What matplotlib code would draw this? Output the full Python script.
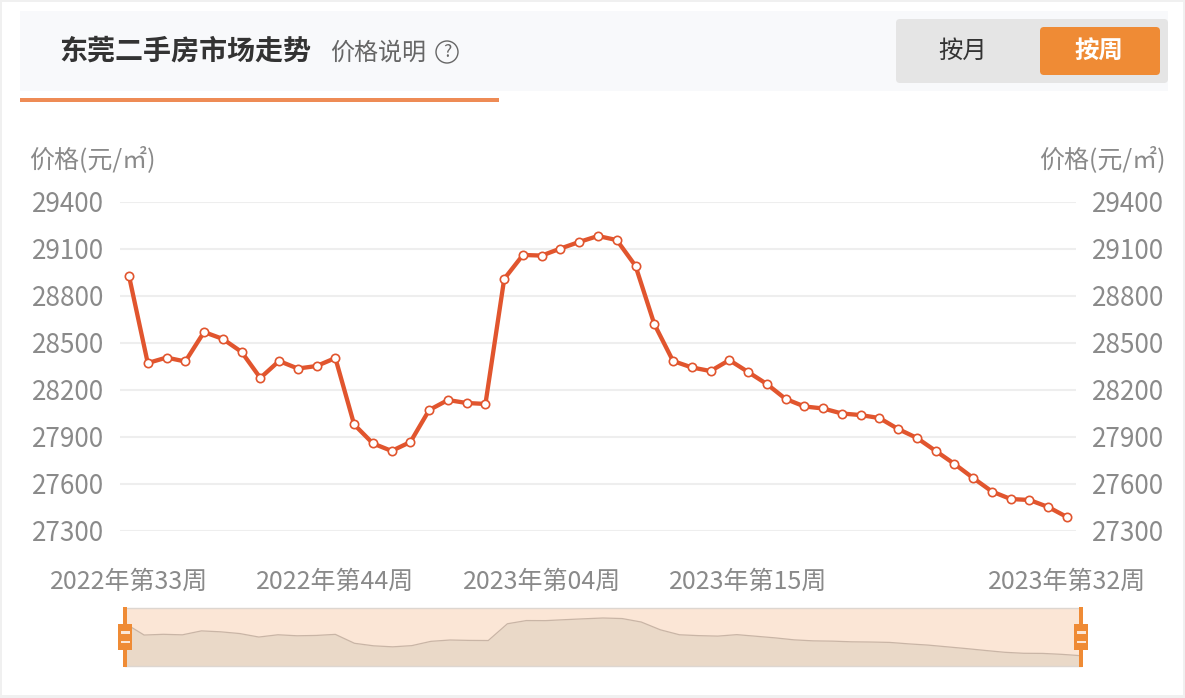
import matplotlib
matplotlib.use("Agg")
import matplotlib.pyplot as plt
from matplotlib.patches import Rectangle, FancyBboxPatch, Circle
from matplotlib.transforms import ScaledTranslation

FONT = ['Noto Sans CJK SC', 'DejaVu Sans']
plt.rcParams['font.family'] = FONT

W, H = 1185, 698

title = "东莞二手房市场走势"
subtitle = "价格说明"
axis_title = "价格(元/㎡)"
btn_month = "按月"
btn_week = "按周"

prices = [28928, 28372, 28407, 28382, 28570, 28526, 28443, 28277, 28385, 28337,
          28353, 28404, 27980, 27859, 27811, 27868, 28072, 28136, 28117, 28111,
          28909, 29062, 29058, 29103, 29145, 29183, 29157, 28992, 28621, 28385,
          28344, 28321, 28391, 28315, 28238, 28143, 28095, 28082, 28050, 28040,
          28021, 27951, 27894, 27811, 27728, 27638, 27552, 27504, 27498, 27453,
          27389]
x_index = list(range(len(prices)))
x_tick_pos = [0, 11, 22, 33, 50]
x_tick_labels = ["2022年第33周", "2022年第44周", "2023年第04周", "2023年第15周", "2023年第32周"]
y_ticks = [27300, 27600, 27900, 28200, 28500, 28800, 29100, 29400]

ORANGE = "#ef8b35"
LINE = "#e1552e"
GREY = "#8a8a8a"
DARK = "#333333"


def axes_px(fig, left, top, right, bottom, **kw):
    return fig.add_axes([left / W, 1 - bottom / H, (right - left) / W, (bottom - top) / H], **kw)


fig = plt.figure(figsize=(W / 100, H / 100), dpi=100, facecolor="white")

# page chrome in pixel coordinates
bg = axes_px(fig, 0, 0, W, H)
bg.set_xlim(0, W)
bg.set_ylim(H, 0)
bg.axis("off")
for r in [(0, 0, W, 2), (0, 0, 2, H), (W - 2, 0, 2, H), (0, H - 3, W, 3)]:
    bg.add_patch(Rectangle((r[0], r[1]), r[2], r[3], fc="#f0f0f0", ec="none"))
bg.add_patch(Rectangle((20, 11), 1148, 80, fc="#f8f9fb", ec="none"))
bg.add_patch(Rectangle((20, 98), 479, 4, fc="#ee8b55", ec="none"))
bg.add_patch(FancyBboxPatch((899, 22), 266, 58, boxstyle="round,pad=3,rounding_size=4",
                            fc="#e5e5e5", ec="none"))
bg.add_patch(FancyBboxPatch((1043, 30), 114, 42, boxstyle="round,pad=3,rounding_size=4",
                            fc=ORANGE, ec="none"))
bg.text(59, 51.5, title, fontsize=20.2, fontweight="bold", color=DARK, va="center", ha="left")
bg.text(330, 52.5, subtitle, fontsize=17.3, color="#666666", va="center", ha="left")
bg.add_patch(Circle((447, 52), 11, fc="none", ec="#666666", lw=1.0))
bg.text(447, 52, "?", fontsize=12.5, color="#666666", va="center", ha="center")
bg.text(963, 51, btn_month, fontsize=17.6, color=DARK, va="center", ha="center")
bg.text(1099, 51, btn_week, fontsize=17.6, fontweight="bold", color="white", va="center", ha="center")
bg.text(29, 159.5, axis_title, fontsize=18, color=GREY, va="center", ha="left")
bg.text(1166, 159.5, axis_title, fontsize=18, color=GREY, va="center", ha="right")

# main chart
ax = axes_px(fig, 120, 202, 1076, 531)
ax.patch.set_alpha(0)
ax.set_xlim(-9 / 18.76, 50 + 9 / 18.76)
ax.set_ylim(y_ticks[0], y_ticks[-1])
ax.set_yticks(y_ticks)
ax.set_xticks(x_tick_pos)
ax.set_xticklabels(x_tick_labels, fontsize=18, color=GREY)
ax.tick_params(axis="x", length=0, pad=27)
ax.tick_params(axis="y", length=0, pad=11.5, labelsize=18.8, labelcolor=GREY)
ax.grid(axis="y", color="#eeeeee", lw=1.5)
ax.set_axisbelow(True)
for s in ax.spines.values():
    s.set_visible(False)
ax.plot(x_index, prices, color=LINE, lw=3.1, marker="o", ms=6, mfc="white", mec=LINE, mew=1.2,
        clip_on=False, zorder=3, solid_joinstyle="round")

ax2 = ax.twinx()
ax2.set_ylim(ax.get_ylim())
ax2.set_yticks(y_ticks)
ax2.tick_params(axis="y", length=0, pad=11.5, labelsize=18.8, labelcolor=GREY)
for s in ax2.spines.values():
    s.set_visible(False)
shift = ScaledTranslation(0, 0.5 / 100, fig.dpi_scale_trans)
for lab in ax.get_yticklabels() + ax2.get_yticklabels():
    lab.set_transform(lab.get_transform() + shift)

# overview slider
mini = axes_px(fig, 125, 608, 1081, 666)
mini.set_xlim(0, 50)
mini.set_ylim(26899, 29659)
mini.set_facecolor("#fbe6d6")
mini.fill_between(x_index, prices, 26899, color="#ead9c8", lw=0)
mini.plot(x_index, prices, color="#c9b5a6", lw=0.9)
mini.set_xticks([])
mini.set_yticks([])
for k, s in mini.spines.items():
    s.set_visible(k in ("top", "bottom"))
    s.set_color("#ddd6d0")
    s.set_linewidth(1.0)

# slider handles
top = fig.add_axes([0, 0, 1, 1])
top.set_xlim(0, W)
top.set_ylim(H, 0)
top.axis("off")
for cx in (125, 1081):
    top.add_patch(Rectangle((cx - 1.75, 606.5), 3.5, 60.5, fc=ORANGE, ec="none"))
    top.add_patch(Rectangle((cx - 7, 624), 14, 26, fc=ORANGE, ec="none"))
    top.add_patch(Rectangle((cx - 4.5, 631), 9, 2.5, fc="#fbe6d6", ec="none"))
    top.add_patch(Rectangle((cx - 4.5, 640.5), 9, 2.5, fc="#fbe6d6", ec="none"))

fig.savefig("out.png", dpi=100)
